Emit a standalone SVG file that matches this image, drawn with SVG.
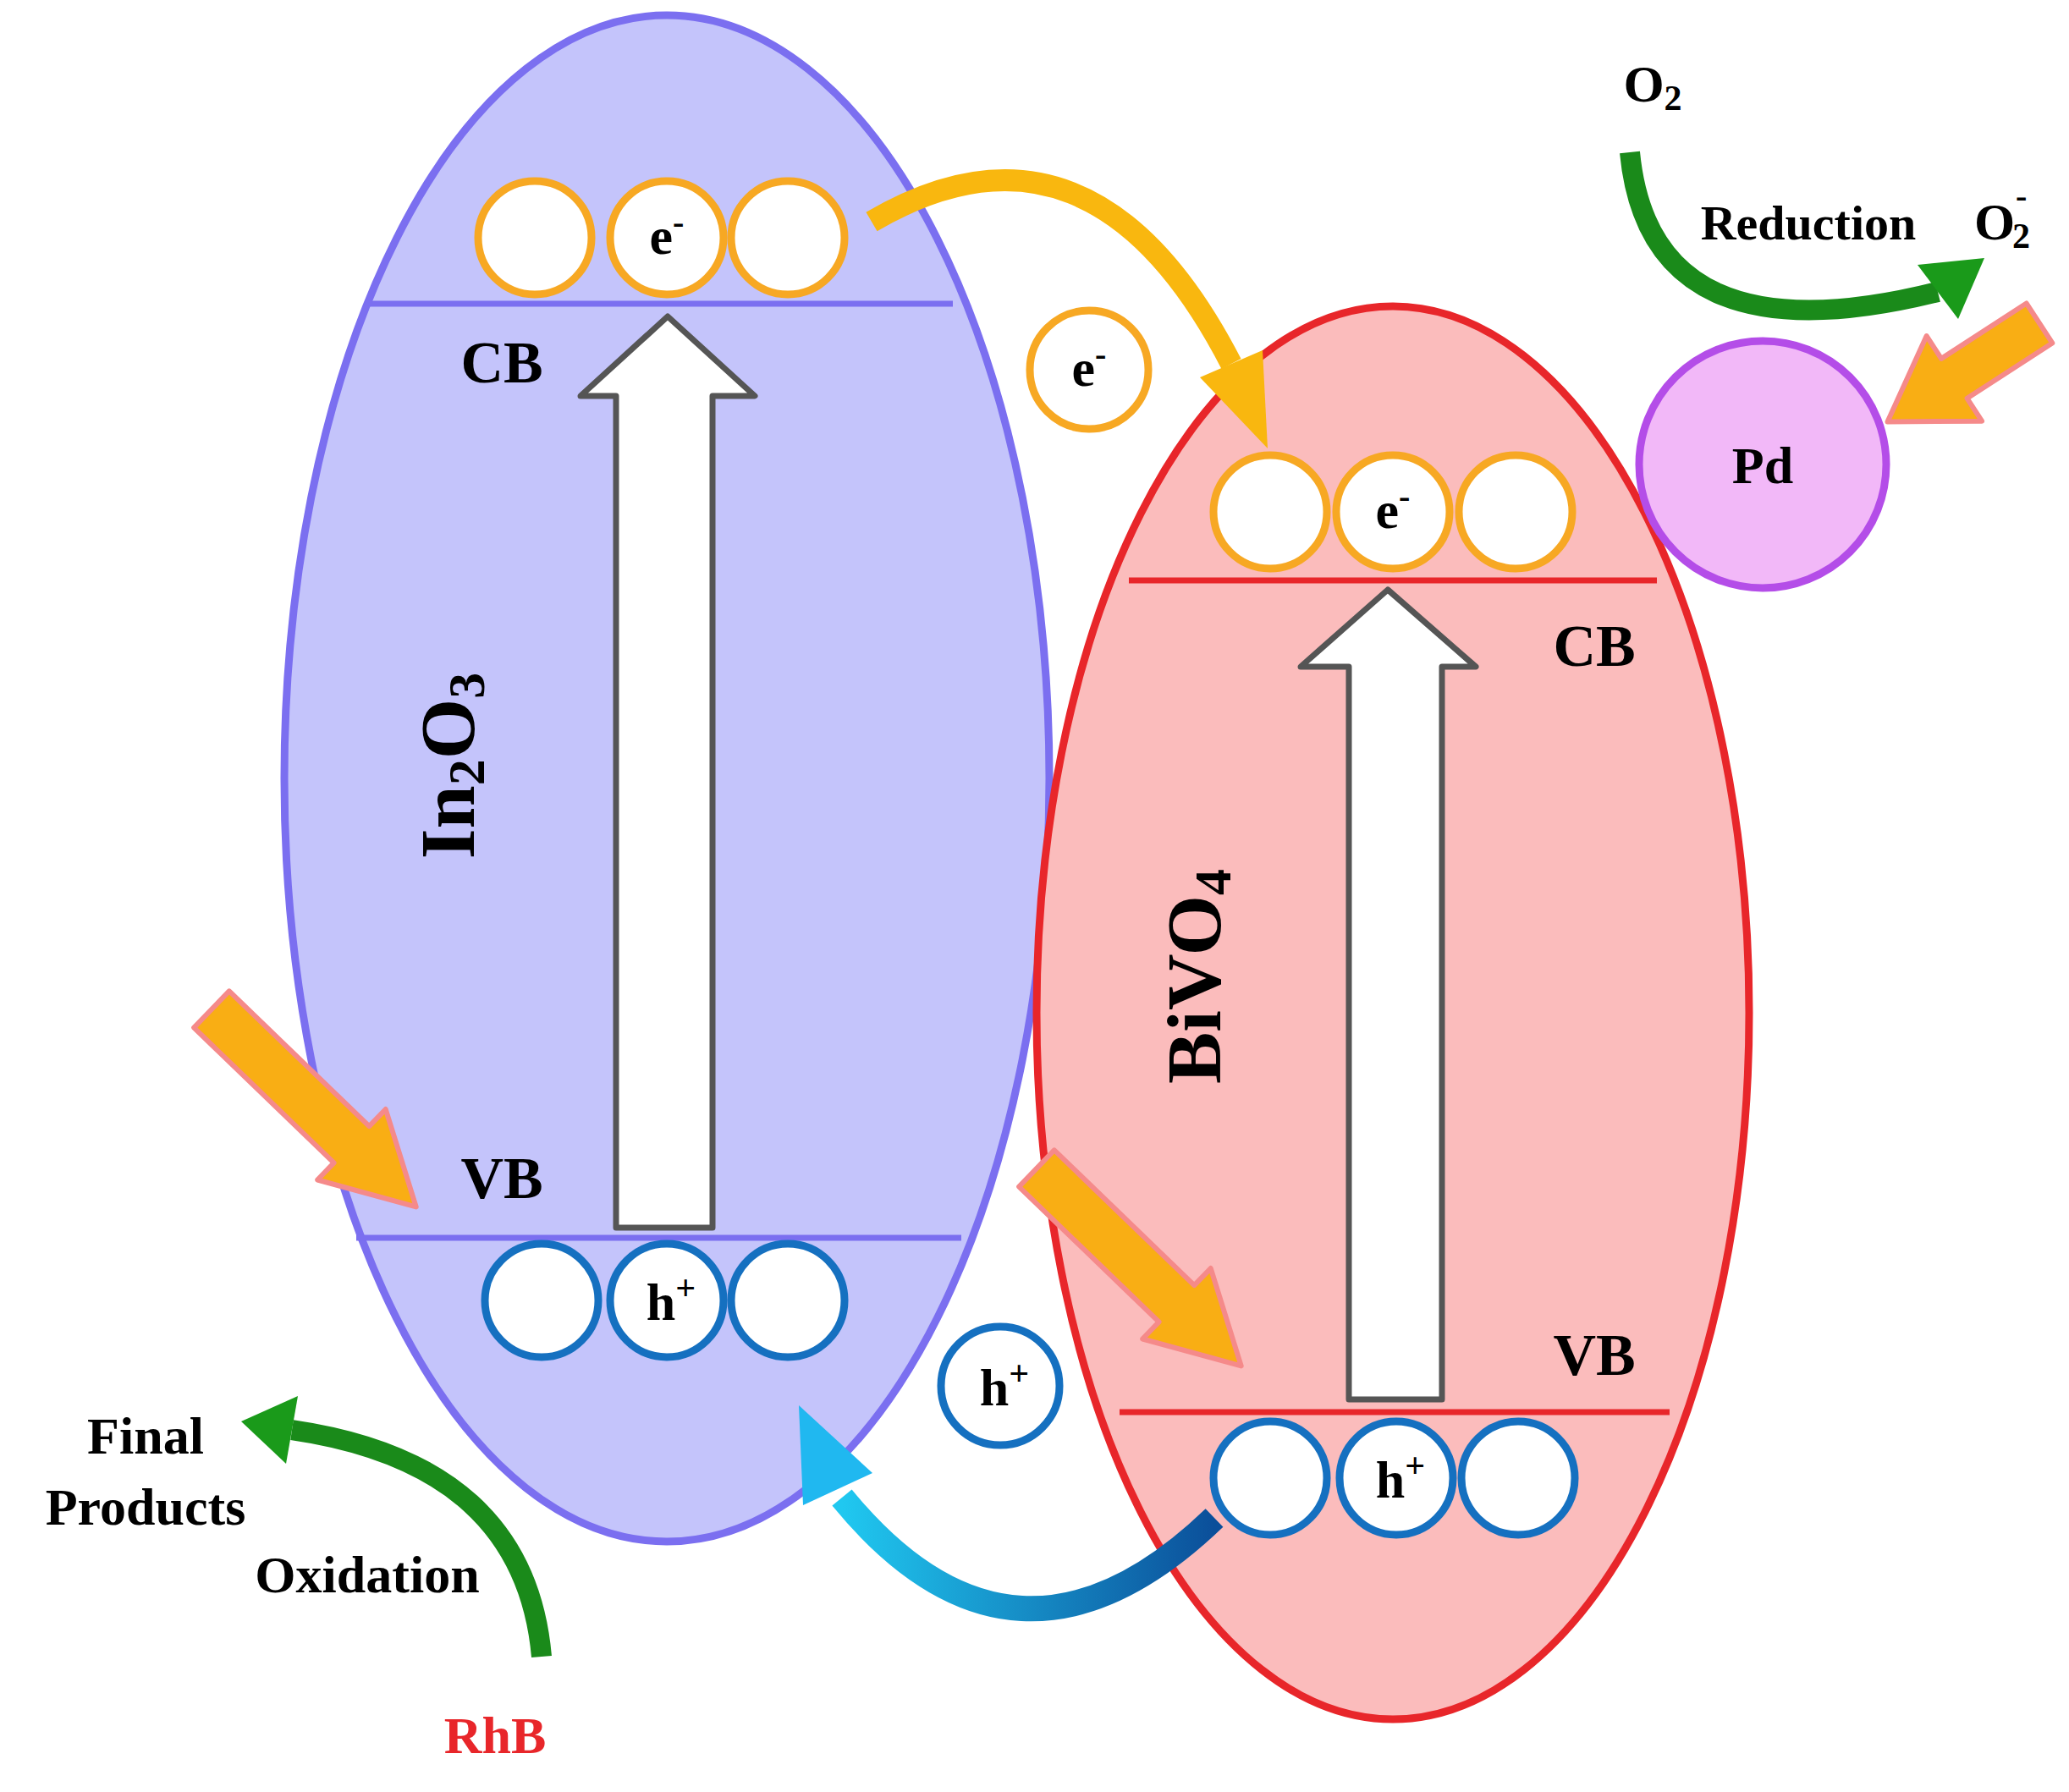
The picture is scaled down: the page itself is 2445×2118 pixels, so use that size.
<svg xmlns="http://www.w3.org/2000/svg" width="2445" height="2118" viewBox="0 0 2445 2118">
<defs>
<style>
.t{font-family:"Liberation Serif",serif;font-weight:bold;fill:#000}
.ec{fill:#fff;stroke:#f7a823;stroke-width:9}
.hc{fill:#fff;stroke:#1570c0;stroke-width:9}
.big{fill:#fff;stroke:#555;stroke-width:7;stroke-linejoin:round}
.oa{fill:#f9ae14;stroke:#f58a8a;stroke-width:6;stroke-linejoin:round}
</style>
<linearGradient id="bg" x1="0" y1="0" x2="1" y2="0"><stop offset="0" stop-color="#20c8f0"/><stop offset="1" stop-color="#0b4f9a"/></linearGradient>
</defs>
<rect width="2445" height="2118" fill="#fff"/>
<g id="in2o3">
<ellipse cx="788" cy="920" rx="452" ry="902" fill="#c4c4fb" stroke="#7b6ff0" stroke-width="9"/>
<line x1="437" y1="359" x2="1126" y2="359" stroke="#7b6ff0" stroke-width="7"/>
<line x1="421" y1="1463" x2="1136" y2="1463" stroke="#7b6ff0" stroke-width="7"/>
<text class="t" font-size="92" transform="translate(560,905) rotate(-90)" text-anchor="middle">In<tspan font-size="62" dy="12">2</tspan><tspan dy="-12">O</tspan><tspan font-size="62" dy="12">3</tspan></text>
</g>
<g id="bivo4">
<ellipse cx="1646" cy="1197" rx="421" ry="835" fill="#fbbcbc" stroke="#e8262a" stroke-width="9"/>
<line x1="1334" y1="686" x2="1958" y2="686" stroke="#e8262a" stroke-width="7"/>
<line x1="1323" y1="1669" x2="1973" y2="1669" stroke="#e8262a" stroke-width="7"/>
<text class="t" font-size="92" transform="translate(1442,1154) rotate(-90)" text-anchor="middle">BiVO<tspan font-size="62" dy="12">4</tspan></text>
</g>
<g id="labels">
<text class="t" font-size="70" x="593" y="452" text-anchor="middle">CB</text>
<text class="t" font-size="70" x="593" y="1416" text-anchor="middle">VB</text>
<text class="t" font-size="70" x="1884" y="787" text-anchor="middle">CB</text>
<text class="t" font-size="70" x="1884" y="1625" text-anchor="middle">VB</text>
</g>
<g id="excitation">
<path class="big" d="M728,1451 L728,468 L686,468 L789,374 L892,468 L842,468 L842,1451 Z"/>
<path class="big" d="M1594,1654 L1594,788 L1537,788 L1640,697 L1744,788 L1704,788 L1704,1654 Z"/>
</g>
<g id="electrons">
<circle class="ec" cx="632" cy="281" r="67"/><circle class="ec" cx="788" cy="281" r="67"/><circle class="ec" cx="931" cy="281" r="67"/>
<circle class="ec" cx="1501" cy="605" r="67"/><circle class="ec" cx="1646" cy="605" r="67"/><circle class="ec" cx="1791" cy="605" r="67"/>
<circle class="ec" cx="1287" cy="437" r="70"/>
<text class="t" font-size="62" x="788" y="300" text-anchor="middle">e<tspan font-size="40" dy="-24">-</tspan></text>
<text class="t" font-size="62" x="1646" y="624" text-anchor="middle">e<tspan font-size="40" dy="-24">-</tspan></text>
<text class="t" font-size="62" x="1287" y="456" text-anchor="middle">e<tspan font-size="40" dy="-24">-</tspan></text>
</g>
<g id="holes">
<circle class="hc" cx="640" cy="1537" r="67"/><circle class="hc" cx="788" cy="1537" r="67"/><circle class="hc" cx="931" cy="1537" r="67"/>
<circle class="hc" cx="1501" cy="1747" r="67"/><circle class="hc" cx="1650" cy="1747" r="67"/><circle class="hc" cx="1794" cy="1747" r="67"/>
<circle class="hc" cx="1182" cy="1638" r="70"/>
<text class="t" font-size="62" x="793" y="1560" text-anchor="middle">h<tspan font-size="42" dy="-24">+</tspan></text>
<text class="t" font-size="62" x="1655" y="1770" text-anchor="middle">h<tspan font-size="42" dy="-24">+</tspan></text>
<text class="t" font-size="62" x="1187" y="1661" text-anchor="middle">h<tspan font-size="42" dy="-24">+</tspan></text>
</g>
<g id="pd">
<circle cx="2083" cy="549" r="146" fill="#f2b8f8" stroke="#b44de8" stroke-width="9"/>
<text class="t" font-size="62" x="2083" y="571" text-anchor="middle">Pd</text>
</g>
<g id="connectors">
<path class="oa" transform="translate(250,1193) rotate(44)" d="M0,-30 L230,-30 L230,-58 L336,0 L230,58 L230,30 L0,30 Z"/>
<path class="oa" transform="translate(1225,1381) rotate(44)" d="M0,-30 L230,-30 L230,-58 L336,0 L230,58 L230,30 L0,30 Z"/>
<path class="oa" transform="translate(2410,382) rotate(147)" d="M0,-28 L120,-28 L120,-60 L214,0 L120,60 L120,28 L0,28 Z"/>
<path d="M1030,262 Q1290,110 1455,430" fill="none" stroke="#f9b70f" stroke-width="26"/>
<polygon points="1492,414 1418,446 1498,530" fill="#f9b70f"/>
<path d="M1435,1794 Q1200,2020 995,1770" fill="none" stroke="url(#bg)" stroke-width="30"/>
<polygon points="1031,1741 949,1779 944,1661" fill="#20b8f0"/>
<path d="M1926,180 Q1950,430 2290,345" fill="none" stroke="#1a8a1a" stroke-width="24"/>
<polygon points="2314,377 2266,313 2345,305" fill="#1a9a1a"/>
<path d="M640,1958 Q620,1730 345,1690" fill="none" stroke="#1a8a1a" stroke-width="24"/>
<polygon points="352,1650 338,1730 285,1680" fill="#1a9a1a"/>
</g>
<g id="texts">
<text class="t" font-size="62" x="1953" y="120" text-anchor="middle">O<tspan font-size="42" dy="10">2</tspan></text>
<text class="t" font-size="58" x="2137" y="283" text-anchor="middle">Reduction</text>
<text class="t" font-size="62" x="2333" y="283">O</text>
<text class="t" font-size="42" x="2378" y="293">2</text>
<text class="t" font-size="40" x="2382" y="245">-</text>
<text class="t" font-size="62" x="172" y="1718" text-anchor="middle">Final</text>
<text class="t" font-size="62" x="172" y="1802" text-anchor="middle">Products</text>
<text class="t" font-size="62" x="434" y="1882" text-anchor="middle">Oxidation</text>
<text class="t" font-size="62" x="585" y="2072" text-anchor="middle" style="fill:#e8262a">RhB</text>
</g>
</svg>
